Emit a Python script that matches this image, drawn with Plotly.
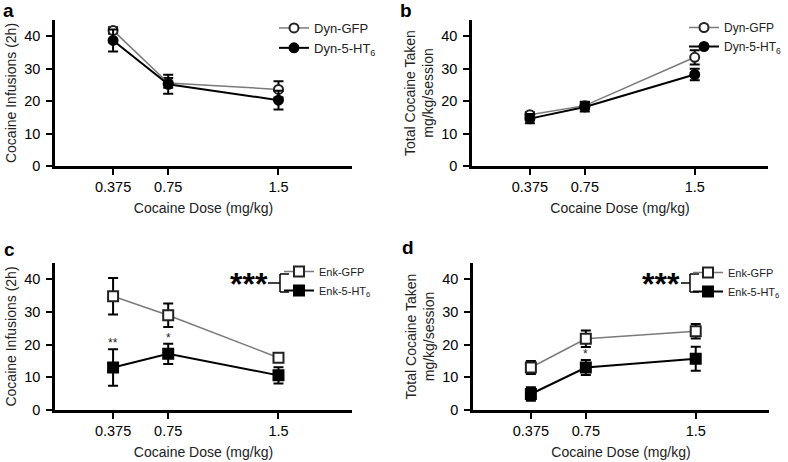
import plotly.graph_objects as go

# ---------------- data ----------------
doses = [0.375, 0.75, 1.5]
dose_labels = ["0.375", "0.75", "1.5"]
y_ticks = [0, 10, 20, 30, 40]

a_gfp = [41.8, 25.6, 23.6]
a_gfp_err = [1.0, 1.5, 2.5]
a_ht6 = [38.7, 25.2, 20.3]
a_ht6_err = [3.4, 2.9, 2.9]

b_gfp = [15.8, 18.6, 33.5]
b_gfp_err = [0.8, 1.2, 2.2]
b_ht6 = [14.6, 18.2, 28.2]
b_ht6_err = [1.4, 1.4, 1.8]

c_gfp = [34.8, 29.0, 16.0]
c_gfp_err = [5.6, 3.6, 1.0]
c_ht6 = [13.0, 17.2, 10.6]
c_ht6_err = [5.6, 3.1, 2.5]
c_sig = ["**", "*", ""]

d_gfp = [13.0, 21.8, 24.1]
d_gfp_err = [2.0, 2.5, 2.2]
d_ht6 = [4.9, 13.0, 15.7]
d_ht6_err = [2.1, 2.3, 3.7]
d_sig = ["", "*", ""]

W, H = 788, 462
FONT = "Liberation Sans, Arial, Helvetica, sans-serif"


def fx(px):
    return px / W


def fy(py):
    return 1 - py / H


fig = go.Figure()

GRAY = "#7a7a7a"
DARK = "#222222"


def add_series(y, err, name, filled, symbol, xa, ya, legend):
    fig.add_trace(go.Scatter(
        x=doses, y=y, name=name, mode="lines+markers",
        xaxis=xa, yaxis=ya, legend=legend,
        line=dict(color="black" if filled else GRAY, width=2 if filled else 1.5),
        marker=dict(symbol=symbol, size=9 if symbol == "circle" else 10,
                    color="black" if filled else "white",
                    line=dict(color="black" if filled else DARK, width=2)),
        error_y=dict(type="data", array=err, visible=True, color="black",
                     thickness=2, width=5),
    ))


add_series(a_gfp, a_gfp_err, "Dyn-GFP", False, "circle", "x", "y", "legend")
add_series(a_ht6, a_ht6_err, "Dyn-5-HT<sub>6</sub>", True, "circle", "x", "y", "legend")
add_series(b_gfp, b_gfp_err, "Dyn-GFP", False, "circle", "x2", "y2", "legend2")
add_series(b_ht6, b_ht6_err, "Dyn-5-HT<sub>6</sub>", True, "circle", "x2", "y2", "legend2")
add_series(c_gfp, c_gfp_err, "Enk-GFP", False, "square", "x3", "y3", "legend3")
add_series(c_ht6, c_ht6_err, "Enk-5-HT<sub>6</sub>", True, "square", "x3", "y3", "legend3")
add_series(d_gfp, d_gfp_err, "Enk-GFP", False, "square", "x4", "y4", "legend4")
add_series(d_ht6, d_ht6_err, "Enk-5-HT<sub>6</sub>", True, "square", "x4", "y4", "legend4")

panels = {
    "a": dict(x=(55, 352), y=(20, 166)),
    "b": dict(x=(472, 768), y=(20, 166)),
    "c": dict(x=(55, 352), y=(263, 410)),
    "d": dict(x=(473, 769), y=(263, 410)),
}


def xaxis_cfg(px, anchor):
    return dict(domain=[fx(px[0]), fx(px[1])], anchor=anchor, range=[-0.02, 2.0],
                tickvals=doses, ticktext=dose_labels, showline=True, linewidth=2.5,
                linecolor="black", ticks="outside", ticklen=6, tickwidth=2,
                tickcolor="black", showgrid=False, zeroline=False,
                tickfont=dict(size=14.5, color="black", family=FONT),
                title=dict(text="Cocaine Dose (mg/kg)", standoff=10,
                           font=dict(size=14, color="#222", family=FONT)))


def yaxis_cfg(py, anchor, title, standoff):
    return dict(domain=[fy(py[1]), fy(py[0])], anchor=anchor, range=[0, 45],
                tickvals=y_ticks, showline=True, linewidth=2.5, linecolor="black",
                ticks="outside", ticklen=6, tickwidth=2, tickcolor="black",
                showgrid=False, zeroline=False, ticklabelstandoff=3,
                tickfont=dict(size=14.5, color="black", family=FONT),
                title=dict(text=title, standoff=standoff,
                           font=dict(size=14, color="#222", family=FONT)))


t_inf = "Cocaine Infusions (2h)"
t_tot = "Total Cocaine Taken<br>mg/kg/session"

fig.update_layout(
    xaxis=xaxis_cfg(panels["a"]["x"], "y"),
    yaxis=yaxis_cfg(panels["a"]["y"], "x", t_inf, 5),
    xaxis2=xaxis_cfg(panels["b"]["x"], "y2"),
    yaxis2=yaxis_cfg(panels["b"]["y"], "x2", t_tot, 5),
    xaxis3=xaxis_cfg(panels["c"]["x"], "y3"),
    yaxis3=yaxis_cfg(panels["c"]["y"], "x3", t_inf, 5),
    xaxis4=xaxis_cfg(panels["d"]["x"], "y4"),
    yaxis4=yaxis_cfg(panels["d"]["y"], "x4", t_tot, 5),
)


def legend_cfg(left, top, size):
    return dict(x=fx(left), y=fy(top), xanchor="left", yanchor="top",
                bgcolor="rgba(0,0,0,0)", borderwidth=0, tracegroupgap=0,
                itemwidth=30, font=dict(size=size, color="#222", family=FONT))


fig.update_layout(
    legend=legend_cfg(274, 13, 13),
    legend2=legend_cfg(684, 13, 12),
    legend3=legend_cfg(279, 257, 11),
    legend4=legend_cfg(688, 258, 11),
)

annotations = []
# panel letters
for letter, (lx, ly) in {"a": (1, -2), "b": (398, -2), "c": (2, 237), "d": (400, 235)}.items():
    annotations.append(dict(text=f"<b>{letter}</b>", x=fx(lx), y=fy(ly), xref="paper",
                            yref="paper", xanchor="left", yanchor="top", showarrow=False,
                            font=dict(size=19, color="black", family=FONT)))

# significance markers above error bars
for sig, vals, errs, xa, ya in [(c_sig, c_ht6, c_ht6_err, "x3", "y3"),
                                 (d_sig, d_ht6, d_ht6_err, "x4", "y4")]:
    for xv, s, v, e in zip(doses, sig, vals, errs):
        if s:
            annotations.append(dict(text=s, x=xv, y=v + e, xref=xa, yref=ya,
                                    xanchor="center", yanchor="bottom", showarrow=False,
                                    yshift=-3, font=dict(size=12, color="#222", family=FONT)))

# *** group significance
for sx, sy in [(249, 283), (661, 283)]:
    annotations.append(dict(text="<b>***</b>", x=fx(sx), y=fy(sy), xref="paper", yref="paper",
                            xanchor="center", yanchor="middle", showarrow=False, yshift=-1,
                            font=dict(size=32, color="black", family=FONT)))

shapes = []
for x0, xb, xe, ytop, ybot in [(268, 280, 289, 274, 292), (681, 690, 699, 274, 292)]:
    ym = (ytop + ybot) / 2
    for (a, b, c, d) in [(x0, ym, xb, ym), (xb, ytop, xb, ybot), (xb, ytop, xe, ytop), (xb, ybot, xe, ybot)]:
        shapes.append(dict(type="line", xref="paper", yref="paper", x0=fx(a), y0=fy(b),
                           x1=fx(c), y1=fy(d), line=dict(color="black", width=1.5)))

fig.update_layout(
    annotations=annotations, shapes=shapes,
    width=W, height=H, margin=dict(l=0, r=0, t=0, b=0, autoexpand=False),
    paper_bgcolor="white", plot_bgcolor="white",
    font=dict(family=FONT, color="black"),
)

fig.write_html("out.html", config={"displayModeBar": False},
               post_script="document.body.style.margin='0px';")
